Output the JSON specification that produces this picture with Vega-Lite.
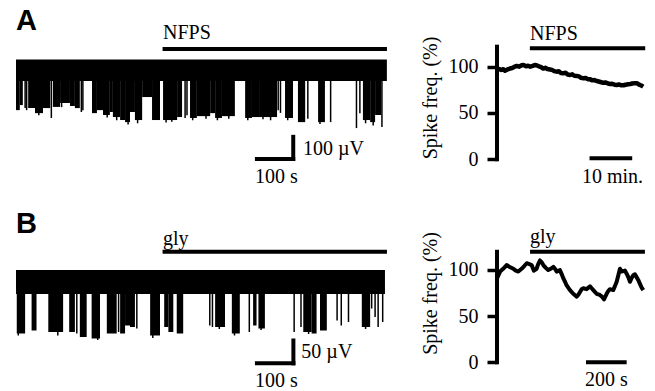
{
  "$schema": "https://vega.github.io/schema/vega-lite/v6.json",
  "padding": 0,
  "background": "white",
  "config": {"view": {"stroke": null}, "font": "Liberation Serif"},
  "datasets": {
    "a_band": [{"start": 0, "end": 976, "top": 2, "bottom": -91}],
    "a_bursts": [
      {"start": 0, "end": 10, "low": -218}, {"start": 10, "end": 18, "low": -196}, {"start": 32, "end": 50, "low": -209},
      {"start": 50, "end": 71, "low": -231}, {"start": 71, "end": 90, "low": -209}, {"start": 97, "end": 116, "low": -204},
      {"start": 116, "end": 142, "low": -187}, {"start": 142, "end": 155, "low": -200}, {"start": 155, "end": 168, "low": -209},
      {"start": 200, "end": 213, "low": -231}, {"start": 213, "end": 229, "low": -218}, {"start": 229, "end": 247, "low": -239},
      {"start": 247, "end": 255, "low": -226}, {"start": 255, "end": 274, "low": -248}, {"start": 274, "end": 287, "low": -261},
      {"start": 287, "end": 300, "low": -270}, {"start": 300, "end": 313, "low": -226}, {"start": 313, "end": 332, "low": -261},
      {"start": 332, "end": 358, "low": -161}, {"start": 358, "end": 379, "low": -261}, {"start": 387, "end": 424, "low": -261},
      {"start": 424, "end": 437, "low": -248}, {"start": 458, "end": 476, "low": -252}, {"start": 476, "end": 511, "low": -244},
      {"start": 511, "end": 524, "low": -231}, {"start": 524, "end": 542, "low": -252}, {"start": 542, "end": 576, "low": -244},
      {"start": 603, "end": 621, "low": -252}, {"start": 621, "end": 642, "low": -248}, {"start": 642, "end": 687, "low": -248},
      {"start": 708, "end": 729, "low": -252}, {"start": 742, "end": 761, "low": -270}, {"start": 795, "end": 813, "low": -270},
      {"start": 913, "end": 932, "low": -261}, {"start": 932, "end": 945, "low": -270}, {"start": 945, "end": 961, "low": -239}
    ],
    "a_spikes": [
      {"time": 24, "low": -209}, {"time": 28, "low": -218}, {"time": 93, "low": -252}, {"time": 172, "low": -226},
      {"time": 176, "low": -218}, {"time": 445, "low": -252}, {"time": 450, "low": -240}, {"time": 690, "low": -218},
      {"time": 696, "low": -230}, {"time": 768, "low": -255}, {"time": 828, "low": -270}, {"time": 896, "low": -296},
      {"time": 905, "low": -231}, {"time": 963, "low": -291}, {"time": 60, "low": -240}, {"time": 120, "low": -205},
      {"time": 240, "low": -250}, {"time": 265, "low": -262}, {"time": 295, "low": -280}, {"time": 320, "low": -275},
      {"time": 395, "low": -272}, {"time": 410, "low": -268}, {"time": 465, "low": -262}, {"time": 500, "low": -255},
      {"time": 530, "low": -262}, {"time": 560, "low": -255}, {"time": 610, "low": -262}, {"time": 650, "low": -258},
      {"time": 670, "low": -262}, {"time": 715, "low": -262}, {"time": 800, "low": -278}, {"time": 920, "low": -275},
      {"time": 940, "low": -285}
    ],
    "a_segments": [
      {"x1": 391, "x2": 971, "y1": 48, "y2": 48},
      {"x1": 634, "x2": 729.6, "y1": -430, "y2": -430},
      {"x1": 729.6, "x2": 729.6, "y1": -334, "y2": -430}
    ],
    "a_notes": [
      {"time": 387, "volt": 90, "label": "NFPS"},
      {"time": 755, "volt": -413, "label": "100 µV"},
      {"time": 629, "volt": -535, "label": "100 s"}
    ],
    "a_panel": [{"time": 0, "volt": 130, "label": "A"}],
    "a_freq": [
      {"minute": 0, "freq": 96.4}, {"minute": 0.5, "freq": 97.5}, {"minute": 1.0, "freq": 96.5}, {"minute": 1.5, "freq": 97.2},
      {"minute": 1.9, "freq": 95.7}, {"minute": 2.5, "freq": 97}, {"minute": 3.1, "freq": 98}, {"minute": 3.6, "freq": 98.5},
      {"minute": 4.2, "freq": 100}, {"minute": 4.7, "freq": 100.7}, {"minute": 5.3, "freq": 100}, {"minute": 5.8, "freq": 101.5},
      {"minute": 6.3, "freq": 101.8}, {"minute": 6.9, "freq": 100.5}, {"minute": 7.4, "freq": 101}, {"minute": 7.9, "freq": 100},
      {"minute": 8.5, "freq": 100.8}, {"minute": 9.0, "freq": 101.8}, {"minute": 9.4, "freq": 101.5}, {"minute": 10.0, "freq": 100.3},
      {"minute": 10.5, "freq": 99.5}, {"minute": 11.0, "freq": 98}, {"minute": 11.5, "freq": 98.8}, {"minute": 12.0, "freq": 97.5},
      {"minute": 12.6, "freq": 97}, {"minute": 13.1, "freq": 96.5}, {"minute": 13.6, "freq": 95.2}, {"minute": 14.2, "freq": 94.6},
      {"minute": 14.7, "freq": 95}, {"minute": 15.2, "freq": 93.2}, {"minute": 15.8, "freq": 92.8}, {"minute": 16.3, "freq": 93.5},
      {"minute": 16.8, "freq": 91.5}, {"minute": 17.4, "freq": 91}, {"minute": 17.9, "freq": 91.8}, {"minute": 18.4, "freq": 90.2},
      {"minute": 19.0, "freq": 90}, {"minute": 19.5, "freq": 89.5}, {"minute": 20.0, "freq": 88}, {"minute": 20.6, "freq": 87.4},
      {"minute": 21.1, "freq": 87.8}, {"minute": 21.6, "freq": 86.5}, {"minute": 22.2, "freq": 86.3}, {"minute": 22.7, "freq": 85.2},
      {"minute": 23.2, "freq": 85.5}, {"minute": 23.7, "freq": 84.5}, {"minute": 24.2, "freq": 84}, {"minute": 24.8, "freq": 83.2},
      {"minute": 25.3, "freq": 82.7}, {"minute": 25.8, "freq": 83}, {"minute": 26.4, "freq": 81.8}, {"minute": 26.9, "freq": 81.3},
      {"minute": 27.4, "freq": 81.5}, {"minute": 28.0, "freq": 80.5}, {"minute": 28.5, "freq": 80.2}, {"minute": 29.0, "freq": 80.8},
      {"minute": 29.6, "freq": 79.8}, {"minute": 30.1, "freq": 79.9}, {"minute": 30.6, "freq": 80.5}, {"minute": 31.2, "freq": 81},
      {"minute": 31.7, "freq": 81.3}, {"minute": 32.2, "freq": 81.8}, {"minute": 32.8, "freq": 82.2}, {"minute": 33.3, "freq": 82},
      {"minute": 33.7, "freq": 81}, {"minute": 34.0, "freq": 80.2}, {"minute": 34.4, "freq": 79.5}, {"minute": 34.8, "freq": 78.4}
    ],
    "a_rsegments": [
      {"minute": 0, "minute_end": 0, "freq": 0, "freq_end": 121.6},
      {"minute": 8.3, "minute_end": 34.8, "freq": 119.9, "freq_end": 119.9},
      {"minute": 22.5, "minute_end": 31.7, "freq": 1.1, "freq_end": 1.1}
    ],
    "a_rnotes": [
      {"minute": 7.86, "freq": 128.8, "label": "NFPS"},
      {"minute": 20.2, "freq": -25.9, "label": "10 min."}
    ],
    "b_band": [{"start": 0, "end": 971, "top": 0, "bottom": -48}],
    "b_bursts": [
      {"start": 2, "end": 24, "low": -127}, {"start": 41, "end": 54, "low": -121}, {"start": 85, "end": 124, "low": -124},
      {"start": 140, "end": 155, "low": -124}, {"start": 168, "end": 186, "low": -134}, {"start": 199, "end": 221, "low": -137},
      {"start": 239, "end": 265, "low": -127}, {"start": 274, "end": 287, "low": -127}, {"start": 287, "end": 300, "low": -111},
      {"start": 300, "end": 313, "low": -114}, {"start": 353, "end": 379, "low": -131}, {"start": 390, "end": 401, "low": -114},
      {"start": 401, "end": 414, "low": -124}, {"start": 423, "end": 440, "low": -127}, {"start": 524, "end": 550, "low": -114},
      {"start": 568, "end": 589, "low": -127}, {"start": 624, "end": 633, "low": -111}, {"start": 638, "end": 655, "low": -117},
      {"start": 756, "end": 778, "low": -124}, {"start": 778, "end": 791, "low": -127}, {"start": 800, "end": 818, "low": -121},
      {"start": 910, "end": 932, "low": -114}
    ],
    "b_spikes": [
      {"time": 6, "low": -131}, {"time": 110, "low": -131}, {"time": 160, "low": -127}, {"time": 215, "low": -140},
      {"time": 270, "low": -124}, {"time": 318, "low": -117}, {"time": 360, "low": -136}, {"time": 365, "low": -130},
      {"time": 510, "low": -111}, {"time": 517, "low": -114}, {"time": 535, "low": -118}, {"time": 575, "low": -131},
      {"time": 614, "low": -124}, {"time": 645, "low": -120}, {"time": 732, "low": -124}, {"time": 750, "low": -114},
      {"time": 770, "low": -128}, {"time": 845, "low": -101}, {"time": 856, "low": -111}, {"time": 875, "low": -104},
      {"time": 920, "low": -118}, {"time": 936, "low": -77}, {"time": 945, "low": -94}, {"time": 953, "low": -114},
      {"time": 965, "low": -104}
    ],
    "b_segments": [
      {"x1": 391, "x2": 971, "y1": 36.7, "y2": 36.7},
      {"x1": 634, "x2": 730, "y1": -186.7, "y2": -186.7},
      {"x1": 730, "x2": 730, "y1": -141, "y2": -186.7}
    ],
    "b_notes": [
      {"time": 387, "volt": 50, "label": "gly"},
      {"time": 751, "volt": -176, "label": "50 µV"},
      {"time": 629, "volt": -233, "label": "100 s"}
    ],
    "b_panel": [{"time": 0, "volt": 74, "label": "B"}],
    "b_freq": [
      {"second": 0, "freq": 90.6}, {"second": 15, "freq": 98}, {"second": 30, "freq": 101}, {"second": 47, "freq": 105},
      {"second": 62, "freq": 103}, {"second": 80, "freq": 101}, {"second": 92, "freq": 99}, {"second": 104, "freq": 98},
      {"second": 120, "freq": 101}, {"second": 133, "freq": 104}, {"second": 145, "freq": 107}, {"second": 158, "freq": 106},
      {"second": 169, "freq": 105}, {"second": 180, "freq": 99}, {"second": 193, "freq": 101}, {"second": 201, "freq": 106},
      {"second": 210, "freq": 110}, {"second": 218, "freq": 108}, {"second": 226, "freq": 105}, {"second": 238, "freq": 102},
      {"second": 250, "freq": 99.6}, {"second": 262, "freq": 101}, {"second": 275, "freq": 103}, {"second": 283, "freq": 101},
      {"second": 291, "freq": 98}, {"second": 307, "freq": 99.6}, {"second": 316, "freq": 95}, {"second": 324, "freq": 90.6},
      {"second": 332, "freq": 87}, {"second": 340, "freq": 83}, {"second": 356, "freq": 78}, {"second": 372, "freq": 74},
      {"second": 389, "freq": 71}, {"second": 397, "freq": 73}, {"second": 405, "freq": 76}, {"second": 413, "freq": 79},
      {"second": 421, "freq": 80}, {"second": 437, "freq": 79}, {"second": 454, "freq": 82}, {"second": 462, "freq": 80},
      {"second": 470, "freq": 78}, {"second": 486, "freq": 74}, {"second": 502, "freq": 72.7}, {"second": 512, "freq": 71},
      {"second": 522, "freq": 68}, {"second": 535, "freq": 74}, {"second": 543, "freq": 77}, {"second": 551, "freq": 79},
      {"second": 567, "freq": 78}, {"second": 575, "freq": 82}, {"second": 584, "freq": 87}, {"second": 592, "freq": 94},
      {"second": 600, "freq": 101}, {"second": 608, "freq": 98}, {"second": 624, "freq": 99}, {"second": 632, "freq": 96},
      {"second": 640, "freq": 92.4}, {"second": 649, "freq": 87}, {"second": 657, "freq": 91}, {"second": 665, "freq": 94},
      {"second": 673, "freq": 95}, {"second": 681, "freq": 92}, {"second": 689, "freq": 89}, {"second": 697, "freq": 85},
      {"second": 705, "freq": 81}, {"second": 714, "freq": 78}
    ],
    "b_rsegments": [
      {"second": 0, "second_end": 0, "freq": 0, "freq_end": 119.4},
      {"second": 171, "second_end": 712, "freq": 119.4, "freq_end": 119.4},
      {"second": 444, "second_end": 623, "freq": 0, "freq_end": 0}
    ],
    "b_rnotes": [
      {"second": 161, "freq": 129.2, "label": "gly"},
      {"second": 429, "freq": -25.3, "label": "200 s"}
    ]
  },
  "spacing": 0,
  "vconcat": [
    {
      "spacing": 102,
      "bounds": "flush",
      "hconcat": [
        {
          "width": 395,
          "height": 195,
          "layer": [
            {
              "data": {"name": "a_band"},
              "mark": {"type": "rect", "color": "black"},
              "encoding": {
                "x": {"field": "start", "type": "quantitative", "scale": {"domain": [-42.1, 997.4], "nice": false, "zero": false}, "axis": null},
                "x2": {"field": "end"},
                "y": {"field": "top", "type": "quantitative", "scale": {"domain": [-587, 261], "nice": false, "zero": false}, "axis": null},
                "y2": {"field": "bottom"}
              }
            },
            {
              "data": {"name": "a_bursts"},
              "mark": {"type": "rect", "color": "black"},
              "encoding": {
                "x": {"field": "start", "type": "quantitative", "axis": null},
                "x2": {"field": "end"},
                "y": {"field": "low", "type": "quantitative", "axis": null},
                "y2": {"datum": -80}
              }
            },
            {
              "data": {"name": "a_spikes"},
              "mark": {"type": "rule", "color": "black", "strokeWidth": 1.5},
              "encoding": {
                "x": {"field": "time", "type": "quantitative", "axis": null},
                "y": {"field": "low", "type": "quantitative", "axis": null},
                "y2": {"datum": -80}
              }
            },
            {
              "data": {"name": "a_segments"},
              "mark": {"type": "rule", "color": "black", "strokeWidth": 4, "strokeCap": "square"},
              "encoding": {
                "x": {"field": "x1", "type": "quantitative", "axis": null},
                "x2": {"field": "x2"},
                "y": {"field": "y1", "type": "quantitative", "axis": null},
                "y2": {"field": "y2"}
              }
            },
            {
              "data": {"name": "a_notes"},
              "mark": {"type": "text", "align": "left", "baseline": "alphabetic", "font": "Liberation Serif", "fontSize": 20, "color": "black"},
              "encoding": {
                "x": {"field": "time", "type": "quantitative", "axis": null},
                "y": {"field": "volt", "type": "quantitative", "axis": null},
                "text": {"field": "label"}
              }
            },
            {
              "data": {"name": "a_panel"},
              "mark": {"type": "text", "align": "left", "baseline": "alphabetic", "font": "Liberation Sans", "fontWeight": "bold", "fontSize": 29, "color": "black"},
              "encoding": {
                "x": {"field": "time", "type": "quantitative", "axis": null},
                "y": {"field": "volt", "type": "quantitative", "axis": null},
                "text": {"field": "label"}
              }
            }
          ]
        },
        {
          "width": 158,
          "height": 195,
          "layer": [
            {
              "data": {"name": "a_freq"},
              "mark": {"type": "line", "color": "black", "strokeWidth": 4.5, "strokeJoin": "round"},
              "encoding": {
                "x": {"field": "minute", "type": "quantitative", "scale": {"domain": [0, 37.6], "nice": false, "zero": false}, "axis": null},
                "y": {
                  "field": "freq", "type": "quantitative",
                  "scale": {"domain": [-38.6, 172], "nice": false, "zero": false},
                  "axis": {
                    "values": [0, 50, 100], "domain": false, "grid": false,
                    "tickSize": 10, "tickWidth": 3.5, "tickColor": "black",
                    "labelFont": "Liberation Serif", "labelFontSize": 20, "labelColor": "black", "labelPadding": 9,
                    "title": "Spike freq. (%)", "titleFont": "Liberation Serif", "titleFontSize": 20,
                    "titleFontWeight": "normal", "titleColor": "black", "titlePadding": 8
                  }
                }
              }
            },
            {
              "data": {"name": "a_rsegments"},
              "mark": {"type": "rule", "color": "black", "strokeWidth": 4, "strokeCap": "square"},
              "encoding": {
                "x": {"field": "minute", "type": "quantitative", "axis": null},
                "x2": {"field": "minute_end"},
                "y": {
                  "field": "freq", "type": "quantitative",
                  "axis": {
                    "values": [0, 50, 100], "domain": false, "grid": false,
                    "tickSize": 10, "tickWidth": 3.5, "tickColor": "black",
                    "labelFont": "Liberation Serif", "labelFontSize": 20, "labelColor": "black", "labelPadding": 9,
                    "title": "Spike freq. (%)", "titleFont": "Liberation Serif", "titleFontSize": 20,
                    "titleFontWeight": "normal", "titleColor": "black", "titlePadding": 8
                  }
                },
                "y2": {"field": "freq_end"}
              }
            },
            {
              "data": {"name": "a_rnotes"},
              "mark": {"type": "text", "align": "left", "baseline": "alphabetic", "font": "Liberation Serif", "fontSize": 20, "color": "black"},
              "encoding": {
                "x": {"field": "minute", "type": "quantitative", "axis": null},
                "y": {
                  "field": "freq", "type": "quantitative",
                  "axis": {
                    "values": [0, 50, 100], "domain": false, "grid": false,
                    "tickSize": 10, "tickWidth": 3.5, "tickColor": "black",
                    "labelFont": "Liberation Serif", "labelFontSize": 20, "labelColor": "black", "labelPadding": 9,
                    "title": "Spike freq. (%)", "titleFont": "Liberation Serif", "titleFontSize": 20,
                    "titleFontWeight": "normal", "titleColor": "black", "titlePadding": 8
                  }
                },
                "text": {"field": "label"}
              }
            }
          ]
        }
      ]
    },
    {
      "spacing": 102,
      "bounds": "flush",
      "hconcat": [
        {
          "width": 395,
          "height": 196,
          "layer": [
            {
              "data": {"name": "b_band"},
              "mark": {"type": "rect", "color": "black"},
              "encoding": {
                "x": {"field": "start", "type": "quantitative", "scale": {"domain": [-42.1, 997.4], "nice": false, "zero": false}, "axis": null},
                "x2": {"field": "end"},
                "y": {"field": "top", "type": "quantitative", "scale": {"domain": [-242, 150], "nice": false, "zero": false}, "axis": null},
                "y2": {"field": "bottom"}
              }
            },
            {
              "data": {"name": "b_bursts"},
              "mark": {"type": "rect", "color": "black"},
              "encoding": {
                "x": {"field": "start", "type": "quantitative", "axis": null},
                "x2": {"field": "end"},
                "y": {"field": "low", "type": "quantitative", "axis": null},
                "y2": {"datum": -40}
              }
            },
            {
              "data": {"name": "b_spikes"},
              "mark": {"type": "rule", "color": "black", "strokeWidth": 1.5},
              "encoding": {
                "x": {"field": "time", "type": "quantitative", "axis": null},
                "y": {"field": "low", "type": "quantitative", "axis": null},
                "y2": {"datum": -40}
              }
            },
            {
              "data": {"name": "b_segments"},
              "mark": {"type": "rule", "color": "black", "strokeWidth": 4, "strokeCap": "square"},
              "encoding": {
                "x": {"field": "x1", "type": "quantitative", "axis": null},
                "x2": {"field": "x2"},
                "y": {"field": "y1", "type": "quantitative", "axis": null},
                "y2": {"field": "y2"}
              }
            },
            {
              "data": {"name": "b_notes"},
              "mark": {"type": "text", "align": "left", "baseline": "alphabetic", "font": "Liberation Serif", "fontSize": 20, "color": "black"},
              "encoding": {
                "x": {"field": "time", "type": "quantitative", "axis": null},
                "y": {"field": "volt", "type": "quantitative", "axis": null},
                "text": {"field": "label"}
              }
            },
            {
              "data": {"name": "b_panel"},
              "mark": {"type": "text", "align": "left", "baseline": "alphabetic", "font": "Liberation Sans", "fontWeight": "bold", "fontSize": 29, "color": "black"},
              "encoding": {
                "x": {"field": "time", "type": "quantitative", "axis": null},
                "y": {"field": "volt", "type": "quantitative", "axis": null},
                "text": {"field": "label"}
              }
            }
          ]
        },
        {
          "width": 158,
          "height": 196,
          "layer": [
            {
              "data": {"name": "b_freq"},
              "mark": {"type": "line", "color": "black", "strokeWidth": 4, "strokeJoin": "round"},
              "encoding": {
                "x": {"field": "second", "type": "quantitative", "scale": {"domain": [0, 771], "nice": false, "zero": false}, "axis": null},
                "y": {
                  "field": "freq", "type": "quantitative",
                  "scale": {"domain": [-31, 180.7], "nice": false, "zero": false},
                  "axis": {
                    "values": [0, 50, 100], "domain": false, "grid": false,
                    "tickSize": 10, "tickWidth": 3.5, "tickColor": "black",
                    "labelFont": "Liberation Serif", "labelFontSize": 20, "labelColor": "black", "labelPadding": 9,
                    "title": "Spike freq. (%)", "titleFont": "Liberation Serif", "titleFontSize": 20,
                    "titleFontWeight": "normal", "titleColor": "black", "titlePadding": 8
                  }
                }
              }
            },
            {
              "data": {"name": "b_rsegments"},
              "mark": {"type": "rule", "color": "black", "strokeWidth": 4, "strokeCap": "square"},
              "encoding": {
                "x": {"field": "second", "type": "quantitative", "axis": null},
                "x2": {"field": "second_end"},
                "y": {
                  "field": "freq", "type": "quantitative",
                  "axis": {
                    "values": [0, 50, 100], "domain": false, "grid": false,
                    "tickSize": 10, "tickWidth": 3.5, "tickColor": "black",
                    "labelFont": "Liberation Serif", "labelFontSize": 20, "labelColor": "black", "labelPadding": 9,
                    "title": "Spike freq. (%)", "titleFont": "Liberation Serif", "titleFontSize": 20,
                    "titleFontWeight": "normal", "titleColor": "black", "titlePadding": 8
                  }
                },
                "y2": {"field": "freq_end"}
              }
            },
            {
              "data": {"name": "b_rnotes"},
              "mark": {"type": "text", "align": "left", "baseline": "alphabetic", "font": "Liberation Serif", "fontSize": 20, "color": "black"},
              "encoding": {
                "x": {"field": "second", "type": "quantitative", "axis": null},
                "y": {
                  "field": "freq", "type": "quantitative",
                  "axis": {
                    "values": [0, 50, 100], "domain": false, "grid": false,
                    "tickSize": 10, "tickWidth": 3.5, "tickColor": "black",
                    "labelFont": "Liberation Serif", "labelFontSize": 20, "labelColor": "black", "labelPadding": 9,
                    "title": "Spike freq. (%)", "titleFont": "Liberation Serif", "titleFontSize": 20,
                    "titleFontWeight": "normal", "titleColor": "black", "titlePadding": 8
                  }
                },
                "text": {"field": "label"}
              }
            }
          ]
        }
      ]
    }
  ]
}
